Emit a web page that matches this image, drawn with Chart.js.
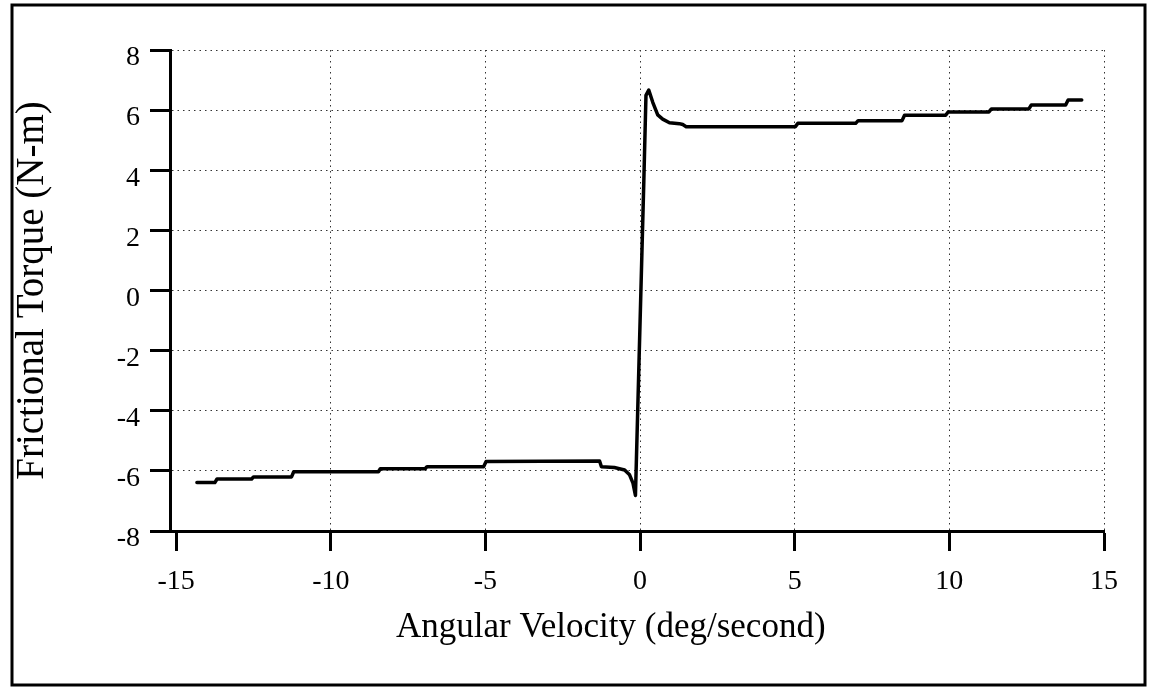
<!DOCTYPE html>
<html>
<head>
<meta charset="utf-8">
<script src="https://cdn.jsdelivr.net/npm/chart.js@4.4.1/dist/chart.umd.min.js"></script>
<style>
  html, body { margin: 0; padding: 0; background: #fff; }
  #c { display: block; }
</style>
</head>
<body>
<canvas id="c" width="1151" height="690"></canvas>
<script>
// Angular velocity (deg/second) and frictional torque (N-m)
const velocity = [
  -14.33, -13.75, -13.68, -12.56, -12.50, -11.27, -11.20, -8.46, -8.40, -6.95,
  -6.89, -5.06, -4.98, -1.31, -1.25, -0.83, -0.50, -0.34, -0.23, -0.15,
  0.12, 0.19, 0.28, 0.41, 0.57, 0.73, 0.95, 1.27, 1.38, 1.49,
  5.02, 5.10, 6.97, 7.05, 8.47, 8.55, 9.88, 9.96, 11.28, 11.36,
  12.57, 12.65, 13.76, 13.84, 14.28
];
const torque = [
  -6.39, -6.39, -6.27, -6.27, -6.20, -6.20, -6.03, -6.03, -5.93, -5.93,
  -5.86, -5.86, -5.69, -5.67, -5.86, -5.89, -5.97, -6.13, -6.41, -6.82,
  3.61, 6.49, 6.67, 6.26, 5.84, 5.70, 5.58, 5.55, 5.52, 5.45,
  5.45, 5.56, 5.56, 5.65, 5.65, 5.83, 5.83, 5.94, 5.94, 6.04,
  6.04, 6.17, 6.17, 6.34, 6.34
];
const xTicks = [-15, -10, -5, 0, 5, 10, 15];
const yTicks = [-8, -6, -4, -2, 0, 2, 4, 6, 8];
const xTitle = 'Angular Velocity (deg/second)';
const yTitle = 'Frictional Torque (N-m)';

const FONT = "'Liberation Serif', 'Times New Roman', serif";

const framePlugin = {
  id: 'frame',
  beforeDraw(chart) {
    const ctx = chart.ctx;
    ctx.save();
    ctx.fillStyle = '#fff';
    ctx.fillRect(0, 0, chart.width, chart.height);
    ctx.strokeStyle = '#000';
    ctx.lineWidth = 3;
    ctx.strokeRect(12, 5, 1133, 680);
    ctx.restore();
  }
};

new Chart(document.getElementById('c'), {
  type: 'scatter',
  data: {
    datasets: [{
      data: velocity.map((v, i) => ({ x: v, y: torque[i] })),
      showLine: true,
      borderColor: '#000',
      borderWidth: 3.5,
      pointRadius: 0,
      tension: 0,
      fill: false,
      borderJoinStyle: 'round',
      borderCapStyle: 'round'
    }]
  },
  options: {
    responsive: false,
    animation: false,
    devicePixelRatio: 1,
    layout: { padding: { top: 50, right: 47, left: 0, bottom: 0 } },
    plugins: { legend: { display: false }, tooltip: { enabled: false } },
    scales: {
      x: {
        type: 'linear',
        min: -15.2,
        max: 15,
        afterBuildTicks: s => { s.ticks = xTicks.map(v => ({ value: v })); },
        afterFit: s => { s.height = 159; },
        grid: {
          color: c => (c.tick && c.tick.value === -15) ? 'rgba(0,0,0,0)' : '#333',
          lineWidth: 1,
          drawTicks: true,
          tickLength: 20,
          tickWidth: 3,
          tickColor: '#000',
          tickBorderDash: []
        },
        border: { display: true, color: '#000', width: 3, dash: [1.5, 4] },
        ticks: {
          font: { family: FONT, size: 28 },
          color: '#000',
          padding: 14,
          maxRotation: 0,
          autoSkip: false
        },
        title: {
          display: true,
          text: xTitle + '\u00A0\u00A0\u00A0\u00A0\u00A0\u00A0',
          font: { family: FONT, size: 35 },
          color: '#000',
          padding: { top: 0, bottom: 41 }
        }
      },
      y: {
        type: 'linear',
        min: -8,
        max: 8,
        afterBuildTicks: s => { s.ticks = yTicks.map(v => ({ value: v })); },
        afterFit: s => { s.width = 170; },
        grid: {
          color: '#333',
          lineWidth: 1,
          drawTicks: true,
          tickLength: 20,
          tickWidth: 3,
          tickColor: '#000',
          tickBorderDash: []
        },
        border: { display: true, color: '#000', width: 3, dash: [1.5, 4] },
        ticks: {
          font: { family: FONT, size: 28 },
          color: '#000',
          padding: 10,
          labelOffset: 8,
          autoSkip: false
        },
        title: {
          display: true,
          text: yTitle,
          font: { family: FONT, size: 39 },
          color: '#000',
          padding: { top: 9, bottom: 0 }
        }
      }
    }
  },
  plugins: [framePlugin]
});
</script>
</body>
</html>
